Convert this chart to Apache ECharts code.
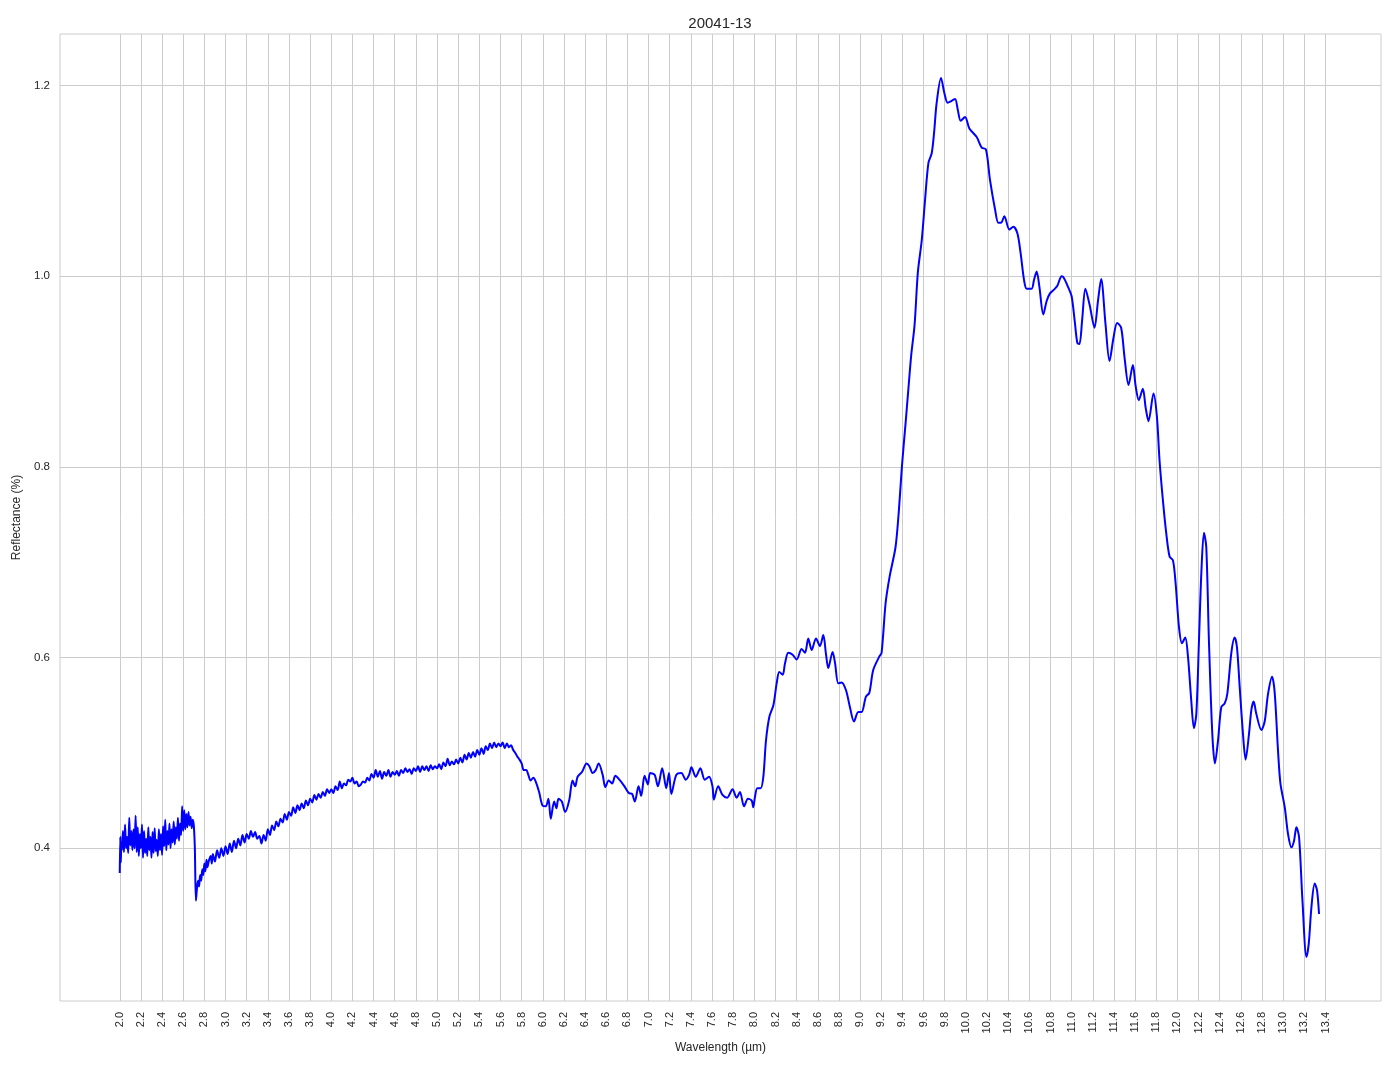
<!DOCTYPE html>
<html>
<head>
<meta charset="utf-8">
<script src="https://cdn.jsdelivr.net/npm/echarts@6/dist/echarts.min.js"></script>
<style>
  html, body { margin: 0; padding: 0; background: #ffffff; }
  #chart { width: 1394px; height: 1069px; }
</style>
</head>
<body>
<div id="chart"></div>
<script>
// ---- Data: [wavelength µm, reflectance] ----
const nirNoisy = [
  [2.000,0.374],[2.005,0.412],[2.010,0.385],[2.015,0.405],[2.02,0.398],[2.03,0.418],[2.04,0.396],[2.05,0.425],
  [2.06,0.400],[2.07,0.412],[2.08,0.395],[2.09,0.432],[2.10,0.403],[2.11,0.418],[2.12,0.398],[2.13,0.420],
  [2.14,0.400],[2.15,0.434],[2.16,0.396],[2.17,0.422],[2.18,0.392],[2.19,0.415],[2.20,0.400],[2.21,0.425],
  [2.22,0.390],[2.23,0.418],[2.24,0.395],[2.25,0.410],[2.26,0.392],[2.27,0.422],[2.28,0.398],[2.29,0.412],
  [2.30,0.390],[2.31,0.417],[2.32,0.395],[2.33,0.421],[2.34,0.397],[2.35,0.409],[2.36,0.392],[2.37,0.420],
  [2.38,0.398],[2.39,0.415],[2.40,0.393],[2.41,0.423],[2.42,0.402],[2.43,0.430],[2.44,0.398],[2.45,0.418],
  [2.46,0.404],[2.47,0.426],[2.48,0.400],[2.49,0.420],[2.50,0.406],[2.51,0.428],[2.52,0.404],[2.53,0.422],
  [2.54,0.410],[2.55,0.432],[2.56,0.408],[2.57,0.426],[2.58,0.414],[2.59,0.444],[2.60,0.418],[2.61,0.440],
  [2.62,0.420],[2.63,0.436],[2.64,0.422],[2.65,0.438],[2.66,0.424],[2.67,0.433],[2.68,0.421],[2.69,0.430],
  [2.70,0.424],[2.71,0.400],[2.72,0.345],[2.73,0.358]
];
const swirRise = [
  [2.74,0.366],[2.75,0.360],[2.76,0.372],[2.77,0.366],[2.78,0.378],[2.79,0.372],[2.80,0.384],[2.81,0.376],
  [2.82,0.388],[2.83,0.380],[2.84,0.386],[2.86,0.392],[2.87,0.384],[2.88,0.394],[2.90,0.386],[2.92,0.398],
  [2.94,0.390],[2.96,0.400],[2.98,0.392],[3.00,0.402],[3.02,0.394],[3.04,0.405],[3.06,0.396],[3.08,0.408],
  [3.10,0.400],[3.12,0.410],[3.14,0.403],[3.16,0.414],[3.18,0.406],[3.20,0.415],[3.22,0.410],[3.24,0.418],
  [3.26,0.412],[3.28,0.417],[3.30,0.410],[3.32,0.413],[3.34,0.405],[3.36,0.414],[3.38,0.408],[3.40,0.420],
  [3.42,0.414],[3.44,0.424],[3.46,0.419],[3.48,0.428],[3.50,0.423],[3.52,0.431],[3.54,0.427],[3.56,0.436],
  [3.58,0.430],[3.60,0.438],[3.62,0.434],[3.64,0.443],[3.66,0.437],[3.68,0.445],[3.70,0.440],[3.72,0.447],
  [3.74,0.442],[3.76,0.450],[3.78,0.445],[3.80,0.452],[3.82,0.448],[3.84,0.456],[3.86,0.451],[3.88,0.457],
  [3.90,0.453],[3.92,0.459],[3.94,0.455],[3.96,0.462],[3.98,0.458]
];
const mwirPlateau = [
  [4.00,0.462],[4.02,0.458],[4.04,0.465],[4.06,0.461],[4.08,0.470],[4.10,0.463],[4.12,0.468],[4.14,0.466],
  [4.16,0.472],[4.18,0.470],[4.20,0.474],[4.22,0.468],[4.24,0.470],[4.26,0.465],[4.28,0.467],[4.30,0.470],
  [4.32,0.469],[4.34,0.474],[4.36,0.471],[4.38,0.478],[4.40,0.474],[4.42,0.482],[4.44,0.475],[4.46,0.481],
  [4.48,0.473],[4.50,0.480],[4.52,0.476],[4.54,0.482],[4.56,0.475],[4.58,0.480],[4.60,0.477],[4.62,0.481],
  [4.64,0.476],[4.66,0.482],[4.68,0.479],[4.70,0.484],[4.72,0.480],[4.74,0.483],[4.76,0.478],[4.78,0.484],
  [4.80,0.481],[4.82,0.486],[4.84,0.480],[4.86,0.486],[4.88,0.482],[4.90,0.486],[4.92,0.481],[4.94,0.487],
  [4.96,0.483],[4.98,0.486],[5.00,0.484],[5.02,0.488],[5.04,0.483],[5.06,0.490],[5.08,0.486],[5.10,0.494],
  [5.12,0.487],[5.14,0.491],[5.16,0.488],[5.18,0.493],[5.20,0.489],[5.22,0.495],[5.24,0.490],[5.26,0.498],
  [5.28,0.493],[5.30,0.500],[5.32,0.495],[5.34,0.501],[5.36,0.496],[5.38,0.503],[5.40,0.498],[5.42,0.505],
  [5.44,0.499],[5.46,0.507],[5.48,0.503],[5.50,0.510],[5.52,0.505],[5.54,0.511],[5.56,0.506],[5.58,0.510],
  [5.60,0.507],[5.62,0.511],[5.64,0.505],[5.66,0.510],[5.68,0.506],[5.70,0.508],[5.72,0.503],[5.74,0.500],
  [5.76,0.496],[5.78,0.493],[5.80,0.489]
];
const midBand = [
  [5.82,0.482],[5.844,0.482],[5.86,0.478],[5.885,0.471],[5.91,0.474],[5.933,0.470],[5.965,0.459],[5.996,0.445],
  [6.028,0.444],[6.053,0.452],[6.075,0.431],[6.107,0.449],[6.129,0.442],[6.148,0.452],[6.18,0.449],[6.211,0.438],
  [6.249,0.450],[6.281,0.471],[6.306,0.465],[6.329,0.475],[6.37,0.480],[6.414,0.489],[6.44,0.486],[6.471,0.479],
  [6.50,0.482],[6.528,0.489],[6.566,0.477],[6.591,0.464],[6.623,0.471],[6.655,0.468],[6.686,0.476],[6.724,0.472],
  [6.772,0.465],[6.813,0.458],[6.844,0.457],[6.87,0.449],[6.905,0.465],[6.93,0.455],[6.962,0.476],[6.993,0.467],
  [7.015,0.479],[7.057,0.477],[7.088,0.465],[7.129,0.484],[7.167,0.463],[7.193,0.479],[7.215,0.457],[7.262,0.477],
  [7.31,0.479],[7.351,0.472],[7.383,0.477],[7.405,0.485],[7.446,0.475],[7.49,0.484],[7.531,0.472],[7.572,0.475],
  [7.604,0.465],[7.617,0.451],[7.658,0.465],[7.699,0.456],[7.743,0.453],[7.794,0.462],[7.832,0.453],[7.864,0.459],
  [7.902,0.444],[7.94,0.452],[7.975,0.450],[7.99,0.443],[8.006,0.454]
];
const lwirBump = [
  [8.028,0.463],[8.06,0.463],[8.085,0.475],[8.11,0.513],[8.142,0.538],[8.18,0.550],[8.211,0.573],[8.236,0.585],
  [8.268,0.582],[8.29,0.594],[8.321,0.605],[8.362,0.603],[8.40,0.598],[8.447,0.609],[8.479,0.605],[8.51,0.620],
  [8.542,0.608],[8.583,0.620],[8.62,0.612],[8.652,0.6236],[8.677,0.604],[8.699,0.589],[8.74,0.606],[8.762,0.595],
  [8.794,0.573],[8.825,0.574],[8.866,0.566],[8.904,0.548],[8.942,0.533],[8.983,0.543],[9.014,0.543],[9.055,0.559],
  [9.087,0.563],[9.124,0.587],[9.181,0.601],[9.203,0.605]
];
const reststrahlenPeak = [
  [9.241,0.657],[9.279,0.685],[9.335,0.716],[9.367,0.755],[9.395,0.800],[9.43,0.846],[9.461,0.888],[9.483,0.917],
  [9.515,0.949],[9.546,1.004],[9.583,1.038],[9.614,1.080],[9.646,1.119],[9.677,1.129],[9.699,1.150],[9.724,1.182],
  [9.765,1.208],[9.797,1.192],[9.828,1.182],[9.866,1.184],[9.898,1.186],[9.923,1.175],[9.951,1.163],[9.992,1.167],
  [10.033,1.155],[10.102,1.146],[10.15,1.135],[10.19,1.133],[10.228,1.101],[10.276,1.070],[10.307,1.056],[10.332,1.056],
  [10.364,1.063],[10.411,1.049],[10.449,1.052],[10.487,1.045],[10.518,1.024],[10.55,0.996],[10.575,0.987],[10.622,0.987],
  [10.644,0.996],[10.669,1.005],[10.694,0.990],[10.732,0.960],[10.764,0.974],[10.795,0.982],[10.843,0.987],[10.865,0.990],
  [10.906,1.000],[10.928,0.998],[10.969,0.988],[11.00,0.979],[11.031,0.951],[11.054,0.930],[11.074,0.929]
];
const lwirTail = [
  [11.10,0.955],[11.13,0.987],[11.17,0.970],[11.216,0.946],[11.25,0.975],[11.279,0.997],[11.32,0.950],[11.358,0.911],
  [11.395,0.935],[11.43,0.951],[11.468,0.946],[11.50,0.915],[11.538,0.886],[11.579,0.907],[11.605,0.885],[11.635,0.870],
  [11.673,0.882],[11.70,0.862],[11.727,0.848],[11.774,0.877],[11.806,0.853],[11.831,0.807],[11.863,0.765],[11.895,0.730],
  [11.926,0.706],[11.958,0.702],[11.983,0.678],[12.015,0.632],[12.043,0.615],[12.074,0.621],[12.10,0.601],[12.131,0.555],
  [12.156,0.526],[12.179,0.541],[12.204,0.618],[12.226,0.688],[12.251,0.731],[12.273,0.716],[12.298,0.618],[12.33,0.520],
  [12.355,0.489],[12.384,0.513],[12.415,0.548],[12.447,0.552],[12.472,0.562],[12.51,0.605],[12.541,0.621],[12.563,0.611],
  [12.589,0.569],[12.62,0.520],[12.645,0.493],[12.677,0.520],[12.699,0.545],[12.721,0.554],[12.746,0.541],[12.794,0.524],
  [12.825,0.533],[12.857,0.562],[12.895,0.580],[12.92,0.563],[12.951,0.503],[12.974,0.468],[13.015,0.443],[13.046,0.415],
  [13.078,0.401],[13.103,0.408],[13.125,0.422],[13.15,0.412],[13.182,0.346],[13.22,0.286],[13.242,0.300],[13.267,0.338],
  [13.298,0.363],[13.32,0.356],[13.339,0.331]
];

const xTicks = [2.0,2.2,2.4,2.6,2.8,3.0,3.2,3.4,3.6,3.8,4.0,4.2,4.4,4.6,4.8,5.0,5.2,5.4,5.6,5.8,
  6.0,6.2,6.4,6.6,6.8,7.0,7.2,7.4,7.6,7.8,8.0,8.2,8.4,8.6,8.8,9.0,9.2,9.4,9.6,9.8,
  10.0,10.2,10.4,10.6,10.8,11.0,11.2,11.4,11.6,11.8,12.0,12.2,12.4,12.6,12.8,13.0,13.2,13.4];
const yTicks = [0.4,0.6,0.8,1.0,1.2];

const titleText = '20041-13';
const xName = 'Wavelength (µm)';
const yName = 'Reflectance (%)';

const spectrum = [].concat(nirNoisy, swirRise, mwirPlateau, midBand, lwirBump, reststrahlenPeak, lwirTail);

const FONT = '"Liberation Sans", Arial, Helvetica, sans-serif';
const TEXT = '#262626';
const GRIDC = '#cccccc';

const chart = echarts.init(document.getElementById('chart'), null, { renderer: 'canvas' });
chart.setOption({
  animation: false,
  backgroundColor: '#ffffff',
  title: {
    text: titleText, left: 715, textAlign: 'center', top: 11,
    textStyle: { fontFamily: FONT, fontSize: 15, fontWeight: 'normal', color: TEXT }
  },
  grid: { left: 60, top: 34, width: 1321, height: 967, show: true, borderColor: GRIDC, borderWidth: 1, containLabel: false },
  xAxis: {
    type: 'value', min: 1.435, max: 13.925,
    name: xName, nameLocation: 'middle', nameGap: 41,
    nameTextStyle: { fontFamily: FONT, fontSize: 12, color: TEXT },
    axisLine: { show: false },
    axisTick: { show: false, customValues: xTicks },
    axisLabel: { customValues: xTicks, rotate: 90, margin: 11, fontFamily: FONT, fontSize: 11, color: TEXT,
      formatter: v => Number(v).toFixed(1) },
    splitLine: { show: true, lineStyle: { color: GRIDC, width: 1 } }
  },
  yAxis: {
    type: 'value', min: 0.2398, max: 1.2541,
    name: yName, nameLocation: 'middle', nameGap: 33,
    nameTextStyle: { fontFamily: FONT, fontSize: 12, color: TEXT },
    axisLine: { show: false },
    axisTick: { show: false, customValues: yTicks },
    axisLabel: { customValues: yTicks, margin: 10, fontFamily: FONT, fontSize: 11.5, color: TEXT,
      formatter: v => Number(v).toFixed(1) },
    splitLine: { show: true, lineStyle: { color: GRIDC, width: 1 } }
  },
  series: [{
    type: 'line',
    data: spectrum,
    showSymbol: false,
    smooth: 0.3,
    lineStyle: { color: '#0000ff', width: 2 },
    z: 3
  }]
});
</script>
</body>
</html>
